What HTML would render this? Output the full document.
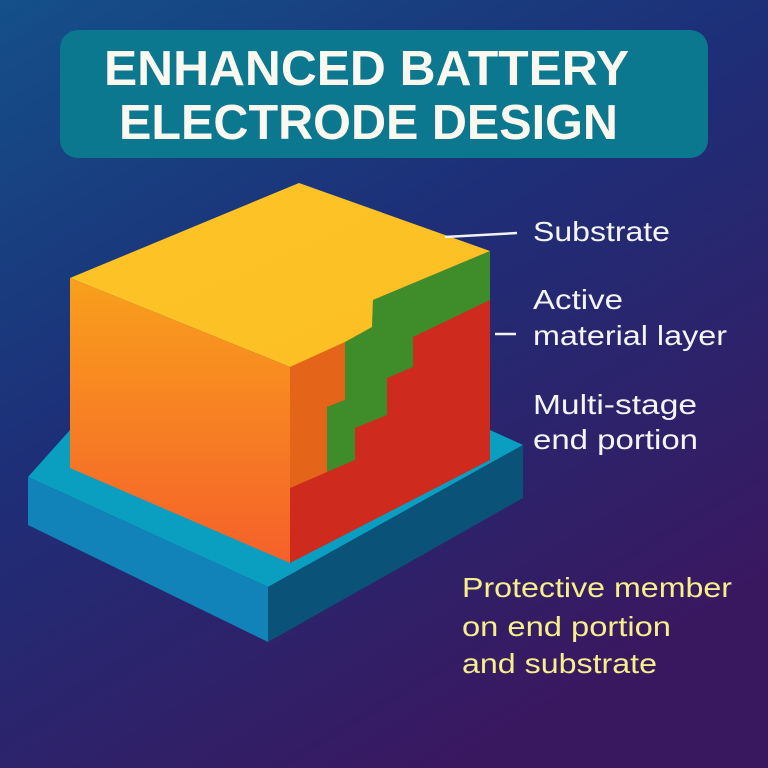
<!DOCTYPE html>
<html><head><style>body{margin:0}svg{display:block}</style></head><body>
<svg width="768" height="768" viewBox="0 0 768 768" xmlns="http://www.w3.org/2000/svg">
<defs>
<linearGradient id="bg" x1="0" y1="0" x2="0.6" y2="1">
<stop offset="0" stop-color="#14508a"/><stop offset="0.45" stop-color="#1d2f78"/><stop offset="1" stop-color="#3a1860"/>
</linearGradient>
<linearGradient id="front" x1="0" y1="0" x2="0" y2="1">
<stop offset="0" stop-color="#f9a01c"/><stop offset="1" stop-color="#f5602a"/>
</linearGradient>
<linearGradient id="top" x1="0" y1="0" x2="1" y2="1">
<stop offset="0" stop-color="#fdc428"/><stop offset="1" stop-color="#fbbf22"/>
</linearGradient>
</defs>
<rect width="768" height="768" fill="url(#bg)"/>
<rect x="60" y="30" width="648" height="128" rx="18" fill="#0b7890"/>
<g font-family="Liberation Sans, sans-serif" font-weight="bold" fill="#fbf8f0" font-size="49">
<text x="104" y="85" textLength="525" lengthAdjust="spacingAndGlyphs">ENHANCED BATTERY</text>
<text x="119" y="139" textLength="499" lengthAdjust="spacingAndGlyphs">ELECTRODE DESIGN</text>
</g>
<!-- base -->
<polygon points="28,477 268,587 523,445 490,430 70,430" fill="#0a9ec0"/>
<polygon points="28,477 268,587 268,642 28,525" fill="#1183b8"/>
<polygon points="268,587 523,445 523,498 268,642" fill="#0b5279"/>
<!-- box -->
<polygon points="290,367 490,251 490,460 290,563" fill="#cf2a1e"/>
<polygon points="290,367 345,342 345,400 327,407 327,472 290,488" fill="#e4641a"/>
<polygon points="373,300 490,251 490,300 413,337 413,367 387,378 387,415 355,428 355,460 327,472 327,407 345,400 345,342 372,327" fill="#3f8c2a"/>
<polygon points="70,278 299,183 490,251 373,300 372,327 345,342 290,367" fill="url(#top)"/>
<polygon points="70,278 290,367 290,563 70,468" fill="url(#front)"/>
<!-- labels -->
<g stroke="#f2f2f2" stroke-width="2.5">
<line x1="445" y1="237" x2="517" y2="233"/>
<line x1="495" y1="334" x2="516" y2="334"/>
</g>
<g font-family="Liberation Sans, sans-serif" font-size="28" fill="#f4f4f4">
<text x="533" y="241" textLength="137" lengthAdjust="spacingAndGlyphs">Substrate</text>
<text x="533" y="309" textLength="90" lengthAdjust="spacingAndGlyphs">Active</text>
<text x="533" y="345" textLength="194" lengthAdjust="spacingAndGlyphs">material layer</text>
<text x="533" y="414" textLength="164" lengthAdjust="spacingAndGlyphs">Multi-stage</text>
<text x="533" y="449" textLength="165" lengthAdjust="spacingAndGlyphs">end portion</text>
</g>
<g font-family="Liberation Sans, sans-serif" font-size="28" fill="#f6ef8a">
<text x="462" y="597" textLength="270" lengthAdjust="spacingAndGlyphs">Protective member</text>
<text x="462" y="636" textLength="209" lengthAdjust="spacingAndGlyphs">on end portion</text>
<text x="462" y="673" textLength="195" lengthAdjust="spacingAndGlyphs">and substrate</text>
</g>
</svg>
</body></html>
